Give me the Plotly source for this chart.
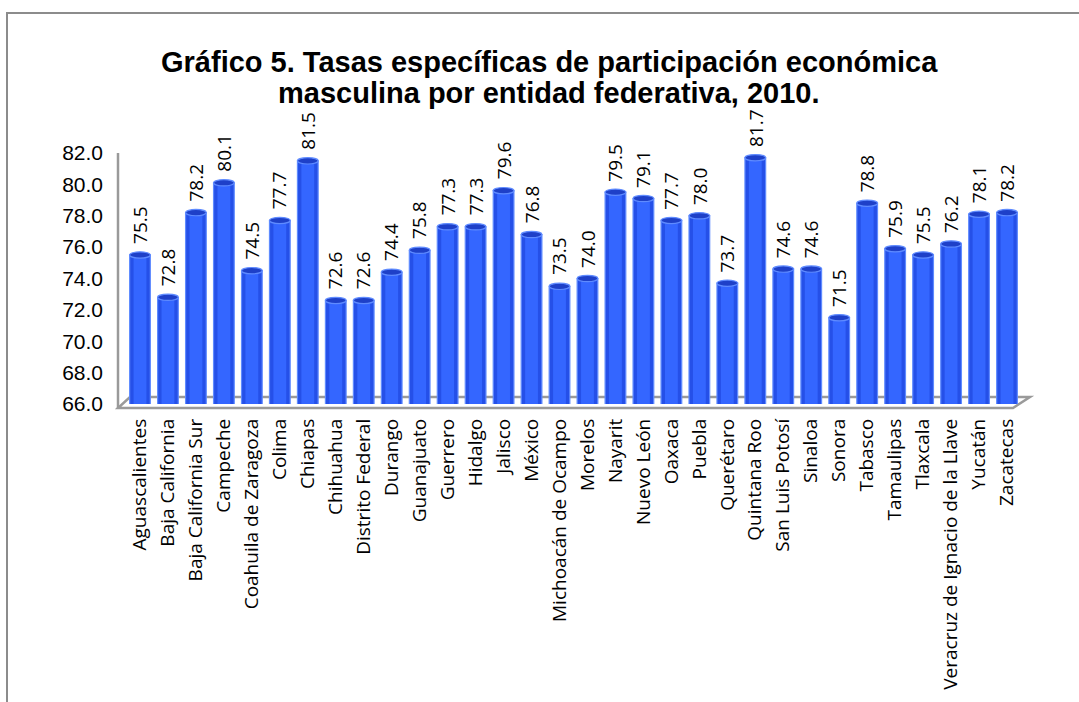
import plotly.graph_objects as go

# Tasas específicas de participación económica masculina, 2010
entidades = [
    "Aguascalientes", "Baja California", "Baja California Sur", "Campeche",
    "Coahuila de Zaragoza", "Colima", "Chiapas", "Chihuahua", "Distrito Federal",
    "Durango", "Guanajuato", "Guerrero", "Hidalgo", "Jalisco", "México",
    "Michoacán de Ocampo", "Morelos", "Nayarit", "Nuevo León", "Oaxaca", "Puebla",
    "Querétaro", "Quintana Roo", "San Luis Potosí", "Sinaloa", "Sonora", "Tabasco",
    "Tamaulipas", "Tlaxcala", "Veracruz de Ignacio de la Llave", "Yucatán", "Zacatecas",
]
tasas = [
    75.5, 72.8, 78.2, 80.1, 74.5, 77.7, 81.5, 72.6, 72.6, 74.4, 75.8, 77.3, 77.3,
    79.6, 76.8, 73.5, 74.0, 79.5, 79.1, 77.7, 78.0, 73.7, 81.7, 74.6, 74.6, 71.5,
    78.8, 75.9, 75.5, 76.2, 78.1, 78.2,
]
y_ticks = [66.0, 68.0, 70.0, 72.0, 74.0, 76.0, 78.0, 80.0, 82.0]
y_min, y_max = 66.0, 82.0
titulo = [
    "Gráfico 5. Tasas específicas de participación económica",
    "masculina por entidad federativa, 2010.",
]

W, H = 1079, 702
M_L, M_R, M_T, M_B = 126, 58, 153, 298
PW, PH = W - M_L - M_R, H - M_T - M_B


def px(x):
    """Pixel column -> paper x."""
    return (x - M_L) / PW


def py(y):
    """Pixel row (from top) -> paper y."""
    return (H - M_B - y) / PH


BAR_W = 0.74
fig = go.Figure()

# cylinder body (outer, darker rim)
fig.add_trace(go.Bar(
    x=entidades, y=tasas, width=BAR_W,
    marker=dict(color="#2550E8", line=dict(color="#5F8BFF", width=1.2)),
    hoverinfo="x+y",
))
# cylinder body (inner, lighter face)
fig.add_trace(go.Bar(
    x=entidades, y=tasas, width=BAR_W * 0.62,
    marker=dict(color="#3466FF", line=dict(width=0)),
    hoverinfo="skip",
))

shapes = []
# elliptical tops of the cylinders
for i, v in enumerate(tasas):
    shapes.append(dict(
        type="circle", xref="x", yref="y",
        x0=i - BAR_W / 2, x1=i + BAR_W / 2, y0=v - 0.2, y1=v + 0.2,
        fillcolor="#1E40C8", line=dict(color="#5F8BFF", width=1.2), layer="above",
    ))

frame = dict(color="#9A9A9A", width=2.5)
# left wall edge and floor outline
shapes.append(dict(type="line", xref="paper", yref="paper",
                   x0=px(118), x1=px(118), y0=py(153), y1=py(408),
                   line=frame, layer="below"))
shapes.append(dict(type="path", xref="paper", yref="paper", layer="below",
                   path=(f"M {px(118)},{py(408)} L {px(1013)},{py(408)} "
                         f"L {px(1030)},{py(397)} L {px(130)},{py(397)} Z"),
                   line=frame, fillcolor="rgba(255,255,255,0)"))
# outer chart border
shapes.append(dict(type="path", xref="paper", yref="paper", layer="below",
                   path=(f"M {px(7)},{py(712)} L {px(7)},{py(13)} L {px(1090)},{py(13)}"),
                   line=dict(color="#8C8C8C", width=2)))

annotations = []
# value labels above each cylinder
for name, v in zip(entidades, tasas):
    annotations.append(dict(
        x=name, y=v, xref="x", yref="y", text=f"{v:.1f}", showarrow=False,
        textangle=-90, xanchor="center", yanchor="bottom", yshift=9,
        font=dict(family="Open Sans", size=19, color="#000000"),
    ))
# two-line title
for k, line in enumerate(titulo):
    annotations.append(dict(
        x=px(549), y=py(62 + 31 * k), xref="paper", yref="paper",
        text=f"<b>{line}</b>", showarrow=False, xanchor="center", yanchor="middle",
        font=dict(family="Liberation Sans, Arial", size=29, color="#000000"),
    ))

fig.update_layout(
    width=W, height=H,
    margin=dict(l=M_L, r=M_R, t=M_T, b=M_B, autoexpand=False),
    paper_bgcolor="#FFFFFF", plot_bgcolor="rgba(0,0,0,0)",
    barmode="overlay", showlegend=False,
    shapes=shapes, annotations=annotations,
    xaxis=dict(
        type="category", showgrid=False, showline=False, zeroline=False,
        tickangle=-90, ticks="", ticklabelstandoff=10,
        tickfont=dict(family="Open Sans", size=19, color="#000000"),
        range=[-0.5, len(entidades) - 0.5],
    ),
    yaxis=dict(
        range=[y_min, y_max], tickvals=y_ticks, tickformat=".1f",
        showgrid=False, showline=False, zeroline=False, ticks="",
        ticklabelstandoff=22,
        tickfont=dict(family="Liberation Sans, Arial", size=21, color="#000000"),
    ),
)

fig.write_html("out.html")
